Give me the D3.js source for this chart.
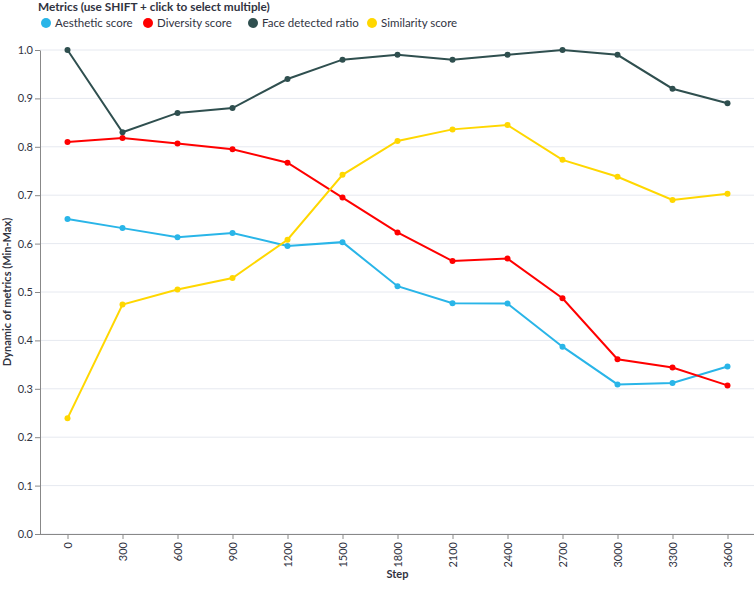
<!DOCTYPE html>
<html>
<head>
<meta charset="utf-8">
<script src="https://cdn.jsdelivr.net/npm/d3@7"></script>
<style>
  body { margin: 0; background: #fff; }
  text { font-family: Lato, "Open Sans", sans-serif; }
</style>
</head>
<body>
<div id="chart"></div>
<script>
// steps along x
const steps = [0, 300, 600, 900, 1200, 1500, 1800, 2100, 2400, 2700, 3000, 3300, 3600];
const metricNames = ["Aesthetic score", "Diversity score", "Face detected ratio", "Similarity score"];
const metricColors = ["#29b5e8", "#ff0000", "#2f4f4f", "#ffd700"];

const aesthetic = [0.651, 0.632, 0.613, 0.622, 0.595, 0.603, 0.512, 0.477, 0.476, 0.387, 0.309, 0.312, 0.346];
const diversity = [0.810, 0.818, 0.807, 0.795, 0.767, 0.695, 0.623, 0.564, 0.569, 0.487, 0.361, 0.344, 0.307];
const face = [1.0, 0.83, 0.87, 0.88, 0.94, 0.98, 0.99, 0.98, 0.99, 1.0, 0.99, 0.92, 0.89];
const similarity = [0.239, 0.474, 0.505, 0.529, 0.608, 0.742, 0.812, 0.836, 0.845, 0.773, 0.738, 0.690, 0.703];
const yTicks = [0, 0.1, 0.2, 0.3, 0.4, 0.5, 0.6, 0.7, 0.8, 0.9, 1.0];

const seriesValues = [aesthetic, diversity, face, similarity];

const width = 754, height = 600;
const plotLeft = 40, plotRight = 755, plotTop = 50, plotBottom = 534;

const svg = d3.select('#chart').append('svg')
  .attr('width', width)
  .attr('height', height);

const x = d3.scalePoint().domain(steps).range([plotLeft, plotRight]).padding(0.5);
const y = d3.scaleLinear().domain([0, 1]).range([plotBottom, plotTop]);

// gridlines
svg.append('g')
  .selectAll('line')
  .data(yTicks)
  .enter()
  .append('line')
  .attr('x1', plotLeft)
  .attr('x2', plotRight)
  .attr('y1', d => y(d))
  .attr('y2', d => y(d))
  .attr('stroke', '#e6e9f0')
  .attr('stroke-width', 1);

// y axis
const yAxis = svg.append('g')
  .attr('transform', `translate(${plotLeft},0)`)
  .call(d3.axisLeft(y).tickValues(yTicks).tickFormat(d3.format('.1f')).tickSize(5).tickSizeOuter(0));
yAxis.select('.domain').attr('stroke', '#888');
yAxis.selectAll('.tick line').attr('stroke', '#888');
yAxis.selectAll('.tick text').attr('fill', '#31333f').attr('font-size', 11).attr('x', -7);

// x axis
const xAxis = svg.append('g')
  .attr('transform', `translate(0,${plotBottom})`)
  .call(d3.axisBottom(x).tickSize(5).tickSizeOuter(0));
xAxis.select('.domain').attr('stroke', '#888').attr('d', `M${plotLeft},0.5H${plotRight}`);
xAxis.selectAll('.tick line').attr('stroke', '#888');
xAxis.selectAll('.tick text')
  .attr('fill', '#31333f')
  .attr('font-size', 11)
  .attr('transform', 'rotate(-90)')
  .attr('text-anchor', 'end')
  .attr('x', -8)
  .attr('y', 0)
  .attr('dy', '0.32em');

// axis titles
svg.append('text')
  .attr('x', (plotLeft + plotRight) / 2)
  .attr('y', 578)
  .attr('text-anchor', 'middle')
  .attr('font-size', 11)
  .attr('font-weight', 'bold')
  .attr('fill', '#31333f')
  .text('Step');

svg.append('text')
  .attr('transform', `translate(11,${(plotTop + plotBottom) / 2}) rotate(-90)`)
  .attr('text-anchor', 'middle')
  .attr('font-size', 11)
  .attr('font-weight', 'bold')
  .attr('fill', '#31333f')
  .text('Dynamic of metrics (Min-Max)');

// lines and points
const line = d3.line()
  .x((d, i) => x(steps[i]))
  .y(d => y(d));

seriesValues.forEach((vals, k) => {
  svg.append('path')
    .datum(vals)
    .attr('d', line)
    .attr('fill', 'none')
    .attr('stroke', metricColors[k])
    .attr('stroke-width', 2);
  svg.append('g')
    .selectAll('circle')
    .data(vals)
    .enter()
    .append('circle')
    .attr('cx', (d, i) => x(steps[i]))
    .attr('cy', d => y(d))
    .attr('r', 3)
    .attr('fill', metricColors[k]);
});

// legend
svg.append('text')
  .attr('x', 38)
  .attr('y', 11)
  .attr('font-size', 11.8)
  .attr('font-weight', 'bold')
  .attr('fill', '#31333f')
  .text('Metrics (use SHIFT + click to select multiple)');

const legendX = [46, 148, 253, 372];
const leg = svg.append('g')
  .selectAll('g')
  .data(metricNames)
  .enter()
  .append('g')
  .attr('transform', (d, i) => `translate(${legendX[i]},23)`);
leg.append('circle')
  .attr('r', 5)
  .attr('fill', (d, i) => metricColors[i]);
leg.append('text')
  .attr('x', 9)
  .attr('dy', '0.35em')
  .attr('font-size', 11.5)
  .attr('fill', '#31333f')
  .text(d => d);
</script>
</body>
</html>
